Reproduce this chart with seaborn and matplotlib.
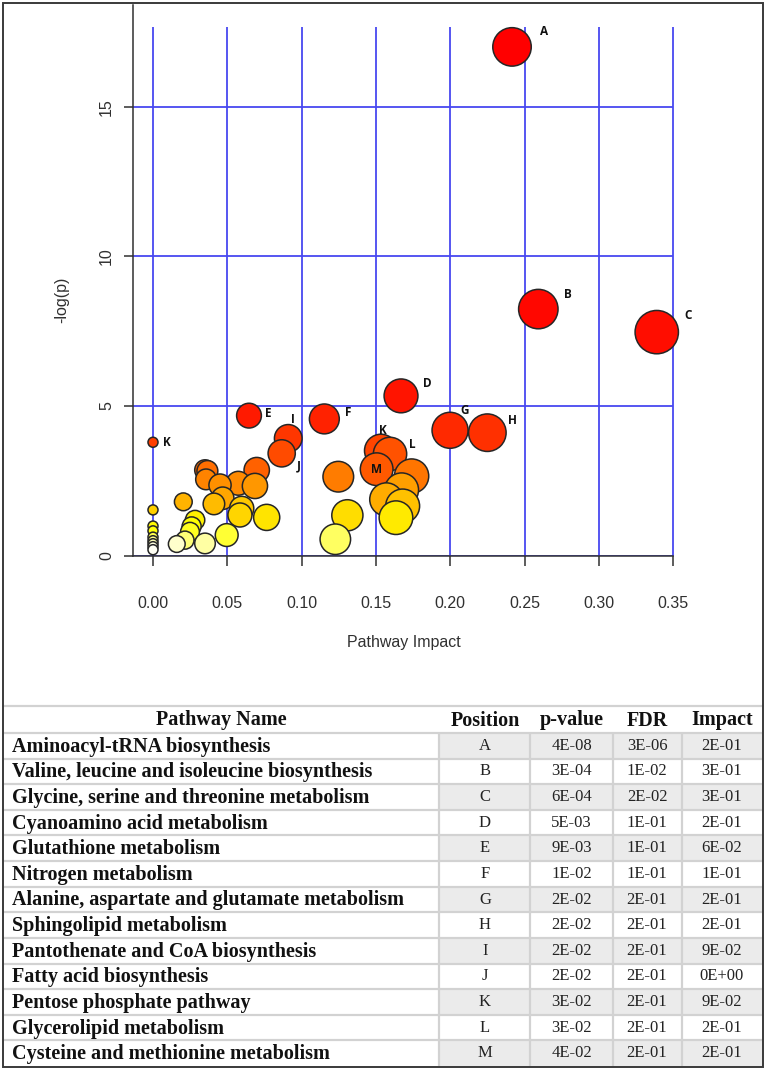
import numpy as np
import pandas as pd
import matplotlib
matplotlib.use("Agg")
import matplotlib.pyplot as plt
import seaborn as sns
from matplotlib.colors import LinearSegmentedColormap, PowerNorm
from matplotlib.patches import Rectangle
from matplotlib.ticker import FormatStrFormatter

sns.set_theme(style="white")
plt.rcParams['font.family'] = ['Liberation Sans', 'DejaVu Sans']

# bubble plot: pathway impact vs -log(p), ordered by p-value
impact = [0.2416, 0.2593, 0.339, 0.1669, 0.0646, 0.1153, 0.1999, 0.225, 0.091, 0.0,
          0.1534, 0.0866, 0.1595, 0.1505, 0.0698, 0.035, 0.0366, 0.174, 0.1247, 0.0357,
          0.0574, 0.0451, 0.0686, 0.1673, 0.0469, 0.157, 0.0204, 0.041, 0.168, 0.0597,
          0.0, 0.0585, 0.1308, 0.0765, 0.1635, 0.0283, 0.0, 0.026, 0.0, 0.0249,
          0.0496, 0.0, 0.1227, 0.0215, 0.0, 0.035, 0.0, 0.016, 0.0, 0.0]
neglogp = [17.0, 8.24, 7.47, 5.34, 4.68, 4.57, 4.19, 4.11, 3.92, 3.79,
           3.51, 3.42, 3.40, 2.89, 2.86, 2.86, 2.83, 2.66, 2.64, 2.55,
           2.42, 2.36, 2.33, 2.20, 1.92, 1.88, 1.80, 1.73, 1.66, 1.58,
           1.53, 1.36, 1.35, 1.28, 1.27, 1.19, 0.99, 0.98, 0.83, 0.80,
           0.69, 0.62, 0.55, 0.52, 0.50, 0.41, 0.40, 0.39, 0.30, 0.20]
bubble_labels = ['A', 'B', 'C', 'D', 'E', 'F', 'G', 'H', 'I', 'K',
                 'K', 'J', 'L', 'M'] + [''] * 36

# table
pathway_names = [
    'Aminoacyl-tRNA biosynthesis',
    'Valine, leucine and isoleucine biosynthesis',
    'Glycine, serine and threonine metabolism',
    'Cyanoamino acid metabolism',
    'Glutathione metabolism',
    'Nitrogen metabolism',
    'Alanine, aspartate and glutamate metabolism',
    'Sphingolipid metabolism',
    'Pantothenate and CoA biosynthesis',
    'Fatty acid biosynthesis',
    'Pentose phosphate pathway',
    'Glycerolipid metabolism',
    'Cysteine and methionine metabolism',
]
positions = list('ABCDEFGHIJKLM')
p_values = ['4E-08', '3E-04', '6E-04', '5E-03', '9E-03', '1E-02', '2E-02',
            '2E-02', '2E-02', '2E-02', '3E-02', '3E-02', '4E-02']
fdr_values = ['3E-06', '1E-02', '2E-02', '1E-01', '1E-01', '1E-01', '2E-01',
              '2E-01', '2E-01', '2E-01', '2E-01', '2E-01', '2E-01']
impact_values = ['2E-01', '3E-01', '3E-01', '2E-01', '6E-02', '1E-01', '2E-01',
                 '2E-01', '9E-02', '0E+00', '9E-02', '2E-01', '2E-01']

df = pd.DataFrame({'impact': impact, 'neglogp': neglogp, 'label': bubble_labels})
df['rank'] = df['neglogp'].rank(ascending=False, method='first')
n = len(df)

# R heat.colors: red -> yellow over 3/4 of ranks, then fading to white
j = n // 4
i = n - j
heat = LinearSegmentedColormap.from_list('heat', [
    (0.0, (1, 0, 0)),
    ((i - 1) / (n - 1), (1, 1, 0)),
    (i / (n - 1), (1, 1, 1 / (2 * j))),
    (1.0, (1, 1, 1 - 1 / (2 * j))),
])

W, H = 766, 1071
fig = plt.figure(figsize=(W / 100, H / 100), dpi=100)

ax_l, ax_r, ax_b, ax_t = 133, 740, 555.7, 5
ax = fig.add_axes([ax_l / W, 1 - ax_b / H, (ax_r - ax_l) / W, (ax_b - ax_t) / H])
px_x = 1486.0
px_y = 29.93
x0 = 153
ax.set_xlim(-(x0 - ax_l) / px_x, (ax_r - x0) / px_x)
ax.set_ylim(0, (ax_b - ax_t) / px_y)

grid_col = '#4848f0'
xt = np.arange(0, 0.351, 0.05)
ax.vlines(xt, 0, 17.67, colors=grid_col, lw=1.3, zorder=0.5)
ax.hlines([0, 5, 10, 15], ax.get_xlim()[0], 0.35, colors=grid_col, lw=1.3, zorder=0.5)

sns.scatterplot(data=df, x='impact', y='neglogp', hue='rank', palette=heat,
                hue_norm=(1, n), size='impact', sizes=(52, 976),
                size_norm=PowerNorm(0.75, vmin=0, vmax=0.34),
                edgecolor='#262626', linewidth=1.1, legend=False,
                ax=ax, zorder=3, clip_on=False)

label_offsets = {0: (32, 15), 1: (30, 15), 2: (31, 17), 3: (26, 12), 4: (19, 2),
                 5: (24, 6), 6: (15, 20), 7: (25, 12), 8: (5, 19), 9: (14, 0),
                 10: (2, 20), 11: (17, -13), 12: (22, 9), 13: (0, 0)}
for idx, (dx, dy) in label_offsets.items():
    ax.annotate(df.loc[idx, 'label'], (df.loc[idx, 'impact'], df.loc[idx, 'neglogp']),
                xytext=(dx, dy), textcoords='offset pixels', ha='center', va='center',
                fontsize=8.5, fontweight='bold', family='Open Sans', color='#111111',
                zorder=5)

for side in ['top', 'right']:
    ax.spines[side].set_visible(False)
for side in ['left', 'bottom']:
    ax.spines[side].set_color('#303030')
    ax.spines[side].set_linewidth(1.1)
ax.spines['bottom'].set_bounds(ax.get_xlim()[0], 0.35)

ax.set_xticks(xt)
ax.xaxis.set_major_formatter(FormatStrFormatter('%.2f'))
ax.set_yticks([0, 5, 10, 15])
ax.tick_params(axis='both', colors='#303030', labelsize=11.5, direction='out',
               width=1.1, left=True, bottom=True)
ax.tick_params(axis='x', length=7, pad=22)
ax.tick_params(axis='y', length=6.5, pad=7)
for lab in ax.get_yticklabels():
    lab.set_rotation(90)
    lab.set_va('center')
ax.set_xlabel('Pathway Impact', fontsize=11.5, color='#303030')
ax.set_ylabel('-log(p)', fontsize=11.5, color='#303030')
ax.xaxis.set_label_coords((404 - ax_l) / (ax_r - ax_l), (ax_b - 643) / (ax_b - ax_t))
ax.xaxis.label.set_va('center')
ax.yaxis.set_label_coords((62 - ax_l) / (ax_r - ax_l), (ax_b - 300) / (ax_b - ax_t))
ax.yaxis.label.set_va('center')

# table drawn in pixel coordinates
tax = fig.add_axes([0, 0, 1, 1], zorder=-1)
tax.set_xlim(0, W)
tax.set_ylim(H, 0)
tax.axis('off')

col_edges = [3, 439, 530, 612.5, 681.5, 763]
head_top, head_bot, tab_bot = 706, 733, 1066
row_h = (tab_bot - head_bot) / len(pathway_names)
line_col = '#d2d2d2'
shade = '#ebebeb'

for r in range(len(pathway_names)):
    y = head_bot + r * row_h
    if r % 2 == 0:
        tax.add_patch(Rectangle((col_edges[1], y), col_edges[-1] - col_edges[1], row_h,
                                facecolor=shade, edgecolor='none'))
tax.hlines([head_top] + [head_bot + r * row_h for r in range(len(pathway_names))],
           3, 763, colors=line_col, lw=1.6)
tax.vlines(col_edges[1:-1], head_bot, tab_bot, colors=line_col, lw=1.6)

serif = ['Liberation Serif', 'DejaVu Serif']
headers = ['Pathway Name', 'Position', 'p-value', 'FDR', 'Impact']
head_x = [221, 485, 571.5, 647, 722.5]
for hx, h in zip(head_x, headers):
    tax.text(hx, (head_top + head_bot) / 2 + 1, h, ha='center', va='center',
             family=serif, fontweight='bold', fontsize=14.5, color='#111111')

data_x = [485, 571.5, 647, 721.5]
for r, name in enumerate(pathway_names):
    yc = head_bot + (r + 0.5) * row_h
    tax.text(12, yc + 1, name, ha='left', va='center', family=serif,
             fontweight='bold', fontsize=14.5, color='#111111')
    for cx, val in zip(data_x, [positions[r], p_values[r], fdr_values[r], impact_values[r]]):
        tax.text(cx, yc, val, ha='center', va='center', family=serif,
                 fontsize=12, color='#222222')

# outer frame
fig.add_artist(Rectangle((3 / W, 1 - 1067 / H), 760 / W, 1064 / H, transform=fig.transFigure,
                         fill=False, edgecolor='#3a3a3a', lw=1.4))

fig.savefig('out.png', dpi=100)
